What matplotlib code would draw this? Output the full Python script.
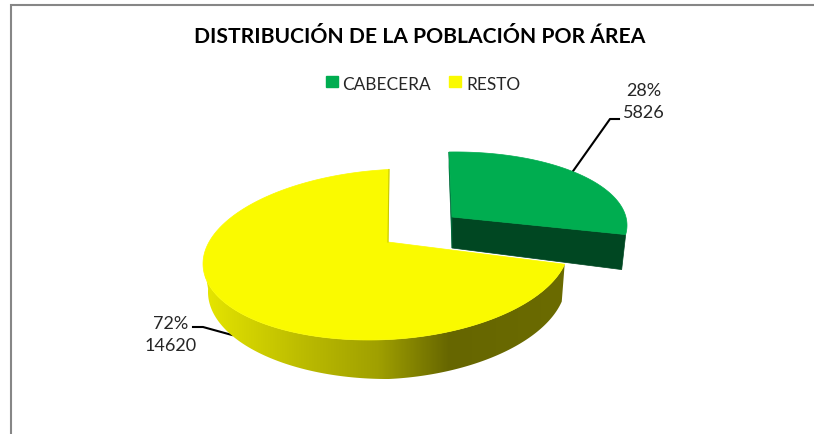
import numpy as np
from matplotlib import pyplot as plt
from matplotlib.colors import LinearSegmentedColormap
from matplotlib.patches import Polygon, Rectangle

plt.rcParams['font.family'] = ['Lato', 'DejaVu Sans']

title = "DISTRIBUCIÓN DE LA POBLACIÓN POR ÁREA"
categories = ["CABECERA", "RESTO"]
values = [5826, 14620]
percents = ["28%", "72%"]

total = sum(values)
split = 360 * values[0] / total


def arc(cx, cy, rx_left, rx_right, ry, start, end, shear_left=0.05, shear_right=0.05, n=200):
    # angles are clockwise from the top, as in the spreadsheet pie
    t = np.radians(np.linspace(start, end, n))
    s = np.sin(t)
    rx = np.where(s < 0, rx_left, rx_right)
    shear = np.where(s < 0, shear_left, shear_right)
    return np.column_stack([cx + rx * s, cy - ry * np.cos(t) - shear * rx * s])


fig = plt.figure(figsize=(8.14, 4.35), dpi=100)
ax = fig.add_axes([0, 0, 1, 1])
ax.set_xlim(0, 814)
ax.set_ylim(435, 0)
ax.axis("off")

# chart frame, only the top and left edges are in the crop
ax.plot([10.5, 10.5, 814], [435, 5.5, 5.5], color="#868686", lw=1.5, solid_joinstyle="miter")

# green slice, pulled out. perspective squeezes its end angle a little
g_apex = np.array([452, 218])
g_depth = 31
g_top = arc(449, 229, 178, 178, 76, 0, split - 5.6, 0.015, 0.015)
g_right = g_top[-1]
ax.add_patch(Polygon([g_apex, g_right, g_right + [-4, 35], g_apex + [0, g_depth]],
                     color="#004722", lw=0.5, zorder=2))
ax.add_patch(Polygon([g_top[0], g_apex, g_apex + [0, g_depth], g_top[0] + [0, 15]],
                     color="#00693a", lw=0.5, zorder=2))
ax.plot([571, 610, 619], [175, 120, 120], color="black", lw=1.5, zorder=2.5)
ax.add_patch(Polygon(np.vstack([[g_apex], g_top]), color="#00AD50", lw=0.5, zorder=3))

# yellow slice
y_apex = np.array([388, 243])
y_top = arc(389, 255.5, 186, 180, 85, split, 360)
y_rim = arc(389, 255.5, 186, 180, 85, split, 272)
y_low = arc(389, 292, 181, 177, 88, 272, split, 0.005, 0.05)
ax.plot([232, 203, 193], [336, 328, 328], color="black", lw=1.5, zorder=3.5)
side = Polygon(np.vstack([y_rim, y_low]), facecolor="none", edgecolor="none", zorder=4)
ax.add_patch(side)
side_cmap = LinearSegmentedColormap.from_list("side", [
    (0.0, "#e6e600"), (0.08, "#d8d800"), (0.28, "#baba00"), (0.48, "#a0a000"),
    (0.68, "#666600"), (1.0, "#6b6b00")])
img = ax.imshow(np.linspace(0, 1, 256)[None, :], cmap=side_cmap, aspect="auto",
                extent=(205, 565, 400, 240), zorder=4)
img.set_clip_path(side)
ax.set_xlim(0, 814)
ax.set_ylim(435, 0)
ax.add_patch(Polygon(np.vstack([[y_apex], y_top]), color="#FAFA00", lw=0.5, zorder=5))
ax.plot([y_top[-1][0], y_apex[0]], [y_top[-1][1], y_apex[1]], color="#c8c800", lw=0.8, zorder=5)

# data labels
text_col = "#262626"
ax.text(644, 102, f"{percents[0]}\n{values[0]}", ha="center", va="center", fontsize=13,
        color=text_col, linespacing=1.45)
ax.text(171, 335, f"{percents[1]}\n{values[1]}", ha="center", va="center", fontsize=13,
        color=text_col, linespacing=1.45)

ax.text(420, 37, title, ha="center", va="center", fontsize=15.2, fontweight="bold", color="black")

# legend
ax.add_patch(Rectangle((326, 77), 12, 11, color="#00AD50"))
ax.text(342, 84.5, categories[0], ha="left", va="center", fontsize=12.4, color=text_col)
ax.add_patch(Rectangle((449, 77), 12, 11, color="#FAFA00"))
ax.text(466, 84.5, categories[1], ha="left", va="center", fontsize=12.4, color=text_col)

fig.savefig("out.png", dpi=100)
